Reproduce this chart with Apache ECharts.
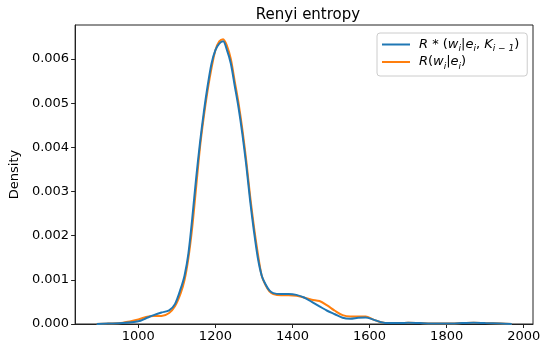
<!DOCTYPE html>
<html>
<head>
<meta charset="utf-8">
<script src="https://cdn.jsdelivr.net/npm/echarts@6/dist/echarts.min.js"></script>
<style>html,body{margin:0;padding:0;background:#fff}#c{width:550px;height:353px}</style>
</head>
<body>
<div id="c"></div>
<script>
var xs = [892, 920, 960, 1000, 1020, 1040, 1060, 1080, 1095, 1110, 1120, 1130, 1140, 1150, 1160, 1170, 1180, 1190, 1200, 1210, 1220, 1230, 1240, 1250, 1260, 1270, 1280, 1290, 1300, 1310, 1320, 1330, 1340, 1350, 1370, 1390, 1410, 1430, 1450, 1470, 1490, 1510, 1530, 1550, 1570, 1590, 1610, 1630, 1650, 1680, 1700, 1730, 1760, 1800, 1840, 1870, 1900, 1940, 1969];
var blueVals = [0, 0.00001, 0.00002, 0.00006, 0.00013, 0.0002, 0.00026, 0.00031, 0.00045, 0.0008, 0.0011, 0.0016, 0.0024, 0.0033, 0.0041, 0.0048, 0.0054, 0.0059, 0.0062, 0.00635, 0.0064, 0.0062, 0.0059, 0.0054, 0.0049, 0.0043, 0.0036, 0.0028, 0.0021, 0.0015, 0.0011, 0.0009, 0.00076, 0.0007, 0.00068, 0.00068, 0.00066, 0.0006, 0.0005, 0.0004, 0.0003, 0.00022, 0.00014, 0.00012, 0.00014, 0.00015, 0.0001, 0.00004, 0.00002, 0.00002, 0.00003, 0.00002, 0.00001, 0.00001, 0.00002, 0.00003, 0.00002, 0.00001, 0];
var orangeVals = [0, 0.00001, 0.00003, 0.0001, 0.00016, 0.00018, 0.00018, 0.00025, 0.0004, 0.0007, 0.001, 0.0015, 0.0022, 0.0031, 0.004, 0.0047, 0.0053, 0.0058, 0.0062, 0.0064, 0.00645, 0.0063, 0.006, 0.0055, 0.005, 0.0044, 0.0037, 0.0029, 0.0022, 0.0016, 0.0011, 0.00088, 0.00074, 0.00068, 0.00065, 0.00065, 0.00064, 0.0006, 0.00055, 0.00052, 0.00042, 0.0003, 0.0002, 0.00017, 0.00017, 0.00017, 0.0001, 0.00004, 0.00002, 0.00002, 0.00003, 0.00002, 0.00001, 0.00001, 0.00002, 0.00003, 0.00002, 0.00001, 0];
var xTicks = [1000, 1200, 1400, 1600, 1800, 2000];
var yTicks = [0, 0.001, 0.002, 0.003, 0.004, 0.005, 0.006];
var seriesNames = ['blue', 'orange'];
var titleText = 'Renyi entropy';
var yName = 'Density';

function pairs(v) { return xs.map(function (x, i) { return [x, v[i]]; }); }

var chart = echarts.init(document.getElementById('c'), null, {renderer: 'canvas'});
var font = 'DejaVu Sans';
var legendRich = {
  it: {fontStyle: 'italic', fontSize: 13, fontFamily: font, color: '#000', lineHeight: 18, verticalAlign: 'middle'},
  up: {fontSize: 13, fontFamily: font, color: '#000', lineHeight: 18, verticalAlign: 'middle'},
  sub: {fontStyle: 'italic', fontSize: 9, fontFamily: font, color: '#000', lineHeight: 12, verticalAlign: 'bottom'}
};
chart.setOption({
  animation: false,
  backgroundColor: '#fff',
  title: {
    text: titleText, left: 303, top: 3, textAlign: 'center',
    textStyle: {fontFamily: font, fontSize: 15, fontWeight: 'normal', color: '#000'}
  },
  grid: {left: 73, right: 17, top: 25, bottom: 29, show: true, borderColor: '#222', borderWidth: 1, containLabel: false},
  legend: {
    orient: 'vertical', left: 377, top: 33, width: 150,
    padding: [5, 8, 5, 5], itemGap: 2, itemWidth: 28, itemHeight: 2, icon: 'rect',
    backgroundColor: 'rgba(255,255,255,0.8)', borderColor: '#cccccc', borderWidth: 1, borderRadius: 3,
    data: [{name: seriesNames[0], icon: 'rect'}, {name: seriesNames[1], icon: 'rect'}],
    formatter: function (n) {
      if (n === 'blue') return '{it|R}{up| * (}{it|w}{sub|i}{up||}{it|e}{sub|i}{up|, }{it|K}{sub|i − 1}{up|)}';
      return '{it|R}{up|(}{it|w}{sub|i}{up||}{it|e}{sub|i}{up|)}';
    },
    textStyle: {rich: legendRich, padding: [0, 0, 0, 4]}
  },
  xAxis: {
    type: 'value', min: 836, max: 2024,
    axisLine: {show: true, onZero: false, lineStyle: {color: '#222', width: 1}},
    axisTick: {show: true, length: 4, lineStyle: {color: '#222'}, customValues: xTicks},
    axisLabel: {color: '#000', fontFamily: font, fontSize: 13, margin: 6, customValues: xTicks,
      formatter: function (v) { return String(v); }},
    splitLine: {show: false}
  },
  yAxis: {
    type: 'value', min: 0, max: 0.00677,
    name: yName, nameLocation: 'middle', nameGap: 54, nameRotate: 90,
    nameTextStyle: {fontFamily: font, fontSize: 13, color: '#000'},
    axisLine: {show: true, lineStyle: {color: '#222', width: 1}},
    axisTick: {show: true, length: 4, lineStyle: {color: '#222'}, customValues: yTicks},
    axisLabel: {color: '#000', fontFamily: font, fontSize: 13, margin: 6, customValues: yTicks,
      formatter: function (v) { return v.toFixed(3); }},
    splitLine: {show: false}
  },
  series: [
    {name: 'orange', type: 'line', data: pairs(orangeVals), showSymbol: false, symbol: 'none', smooth: 0.3, z: 2,
     lineStyle: {color: '#ff7f0e', width: 2}, itemStyle: {color: '#ff7f0e'}},
    {name: 'blue', type: 'line', data: pairs(blueVals), showSymbol: false, symbol: 'none', smooth: 0.3, z: 3,
     lineStyle: {color: '#1f77b4', width: 2}, itemStyle: {color: '#1f77b4'}}
  ]
});
</script>
</body>
</html>
